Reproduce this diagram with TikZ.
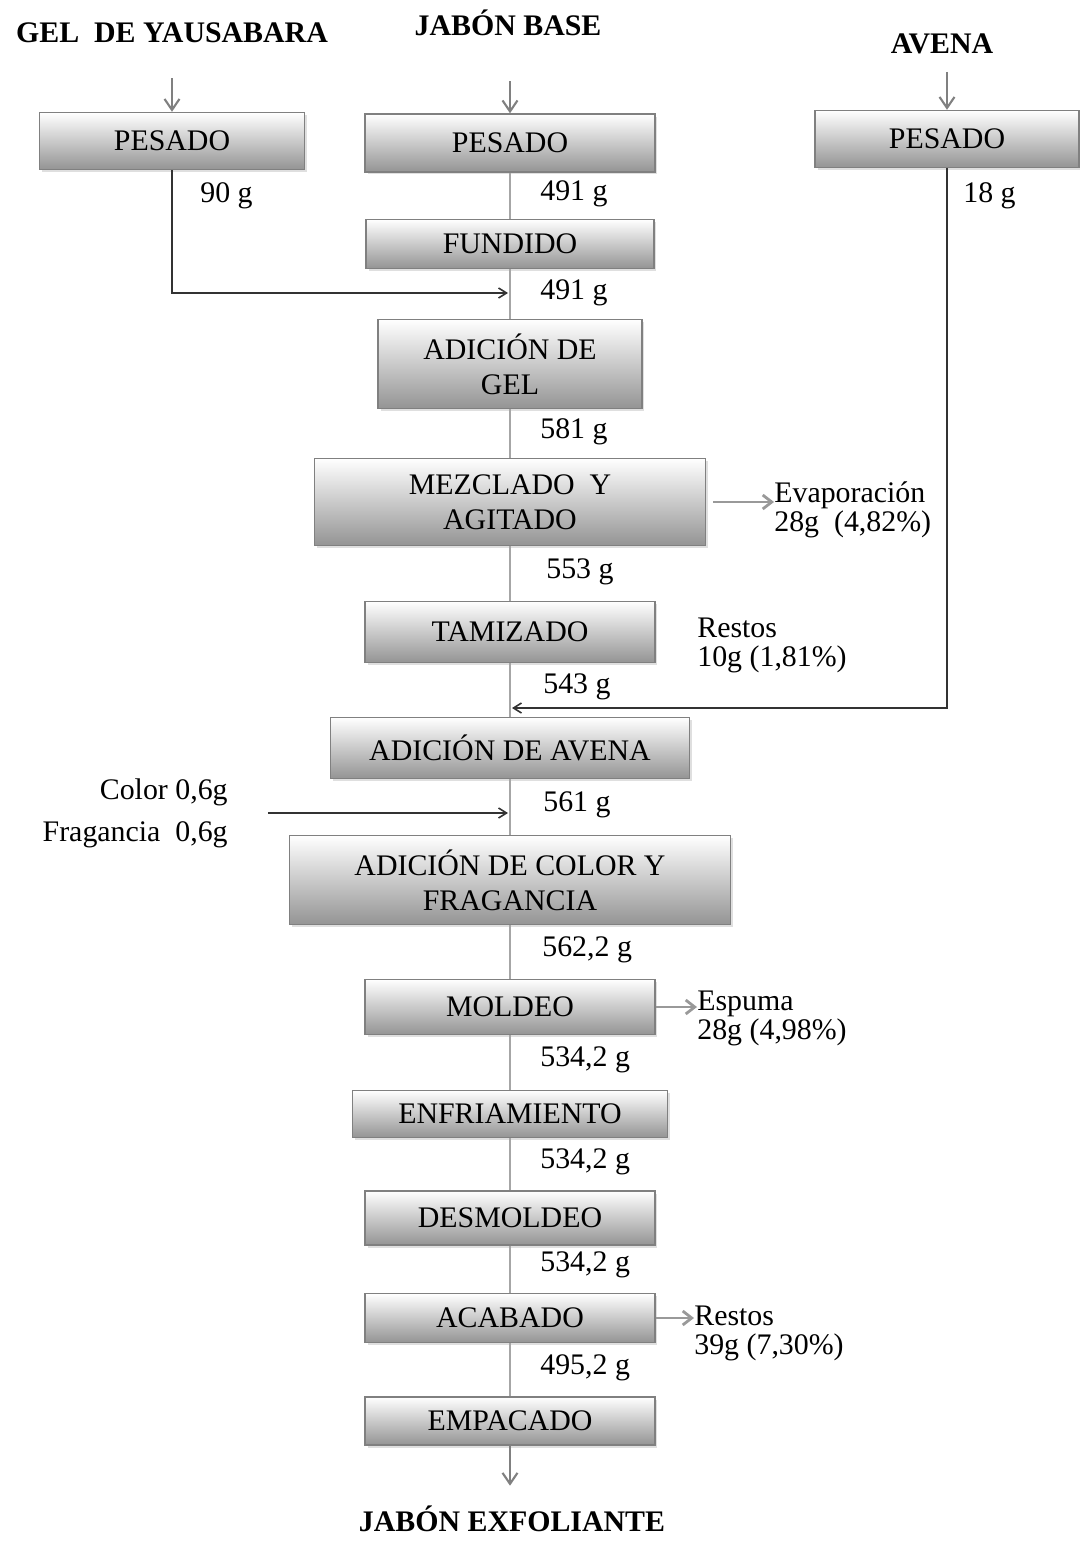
\documentclass[tikz,border=0pt]{standalone}
\usepackage{fontspec}
\setmainfont{Liberation Serif}
\usepackage{tikz}
\usetikzlibrary{arrows.meta, shadows}

\begin{document}
\begin{tikzpicture}[x=0.02cm, y=-0.02cm,
    every node/.style={font=\fontsize{17}{20}\selectfont, inner sep=0pt},
    proc/.style={draw=black!50, line width=0.8pt, top color=white, bottom color=black!42,
      drop shadow={shadow xshift=0.05cm, shadow yshift=-0.05cm, opacity=0.25},
      align=center, minimum width=5.8cm},
    ttl/.style={font=\fontsize{17}{20}\selectfont\bfseries},
    qty/.style={anchor=west},
    side/.style={anchor=west, align=left, font=\fontsize{17}{16.5}\selectfont},
    flow/.style={draw=black!35, line width=1.2pt},
    inarr/.style={draw=black!50, line width=1.2pt, -{Straight Barb[length=0.22cm, width=0.3cm]}},
    feed/.style={draw=black!80, line width=0.9pt, -{Straight Barb[length=0.16cm, width=0.2cm]}},
    outarr/.style={draw=black!40, line width=1.6pt, -{Straight Barb[length=0.18cm, width=0.28cm]}}]
  \useasboundingbox (0,0) rectangle (1079,1541);

  \node[ttl] (tgel) at (172,33) {GEL\ \ DE YAUSABARA};
  \node[ttl] (tjab) at (508,23) {JABÓN BASE};
  \node[ttl] (tave) at (942,44) {AVENA};
  \node[ttl] (tfin) at (512,1519) {JABÓN EXFOLIANTE};

  \node[proc, minimum width=5.3cm, minimum height=1.14cm] (pes1) at (172,141) {PESADO};
  \node[proc, minimum height=1.16cm] (pes2) at (510,143) {PESADO};
  \node[proc, minimum width=5.28cm, minimum height=1.14cm] (pes3) at (947,139) {PESADO};
  \node[proc, minimum width=5.76cm, minimum height=0.98cm] (fund) at (510,244) {FUNDIDO};
  \node[proc, minimum width=5.28cm, minimum height=1.78cm] (adgel) at (510,364) {ADICIÓN DE\\GEL};
  \node[proc, minimum width=7.82cm, minimum height=1.74cm] (mezc) at (510,502) {MEZCLADO\ \ Y\\AGITADO};
  \node[proc, minimum height=1.22cm] (tam) at (510,632) {TAMIZADO};
  \node[proc, minimum width=7.18cm, minimum height=1.22cm] (adav) at (510,748) {ADICIÓN DE AVENA};
  \node[proc, minimum width=8.82cm, minimum height=1.78cm] (adcol) at (510,880) {ADICIÓN DE COLOR Y\\FRAGANCIA};
  \node[proc, minimum height=1.1cm] (mold) at (510,1007) {MOLDEO};
  \node[proc, minimum width=6.3cm, minimum height=0.94cm] (enfr) at (510,1114) {ENFRIAMIENTO};
  \node[proc, minimum height=1.08cm] (desm) at (510,1218) {DESMOLDEO};
  \node[proc, minimum height=0.98cm] (acab) at (510,1318) {ACABADO};
  \node[proc, minimum height=0.96cm] (emp) at (510,1421) {EMPACADO};

  \node[qty] (q1) at (200,196) {90 g};
  \node[qty] (q2) at (540,194) {491 g};
  \node[qty] (q3) at (963,196) {18 g};
  \node[qty] (q4) at (540,293) {491 g};
  \node[qty] (q5) at (540,432) {581 g};
  \node[qty] (q6) at (546,572) {553 g};
  \node[qty] (q7) at (543,687) {543 g};
  \node[qty] (q8) at (543,805) {561 g};
  \node[qty] (q9) at (542,950) {562,2 g};
  \node[qty] (q10) at (540,1060) {534,2 g};
  \node[qty] (q11) at (540,1162) {534,2 g};
  \node[qty] (q12) at (540,1265) {534,2 g};
  \node[qty] (q13) at (540,1368) {495,2 g};

  \node[side] (evap) at (774,510) {Evaporación\\ 28g\ \ (4,82\%)};
  \node[side] (rest1) at (697,645) {Restos\\10g (1,81\%)};
  \node[side] (esp) at (697,1018) {Espuma\\ 28g (4,98\%)};
  \node[side] (rest2) at (694,1333) {Restos\\ 39g (7,30\%)};
  \node[anchor=east, align=right, font=\fontsize{17}{24}\selectfont] (colr) at (228,813) {Color 0,6g\\Fragancia\ \ 0,6g};

  \coordinate (jgel) at (508,293);
  \coordinate (jave) at (512,708);
  \coordinate (jcol) at (508,813);

  \draw[flow] (pes2) -- (fund) -- (adgel) -- (mezc) -- (tam) -- (adav) -- (adcol)
    -- (mold) -- (enfr) -- (desm) -- (acab) -- (emp);

  \draw[inarr, shorten <=0.7cm] (tgel.south) -- (pes1);
  \draw[inarr, shorten <=0.9cm] (tjab.south -| pes2) -- (pes2);
  \draw[inarr, shorten <=0.35cm] (tave.south -| pes3) -- (pes3);
  \draw[inarr, shorten >=0.4cm] (emp) -- (tfin.north -| emp);

  \draw[feed] (pes1) |- (jgel);
  \draw[feed] (pes3) |- (jave);
  \draw[feed] ([xshift=0.8cm]colr.east) -- (jcol);

  \draw[outarr] ([xshift=0.14cm]mezc.east) -- (mezc.east -| evap.west);
  \draw[outarr] (mold.east) -- (mold.east -| esp.west);
  \draw[outarr] (acab.east) -- (acab.east -| rest2.west);
\end{tikzpicture}
\end{document}
